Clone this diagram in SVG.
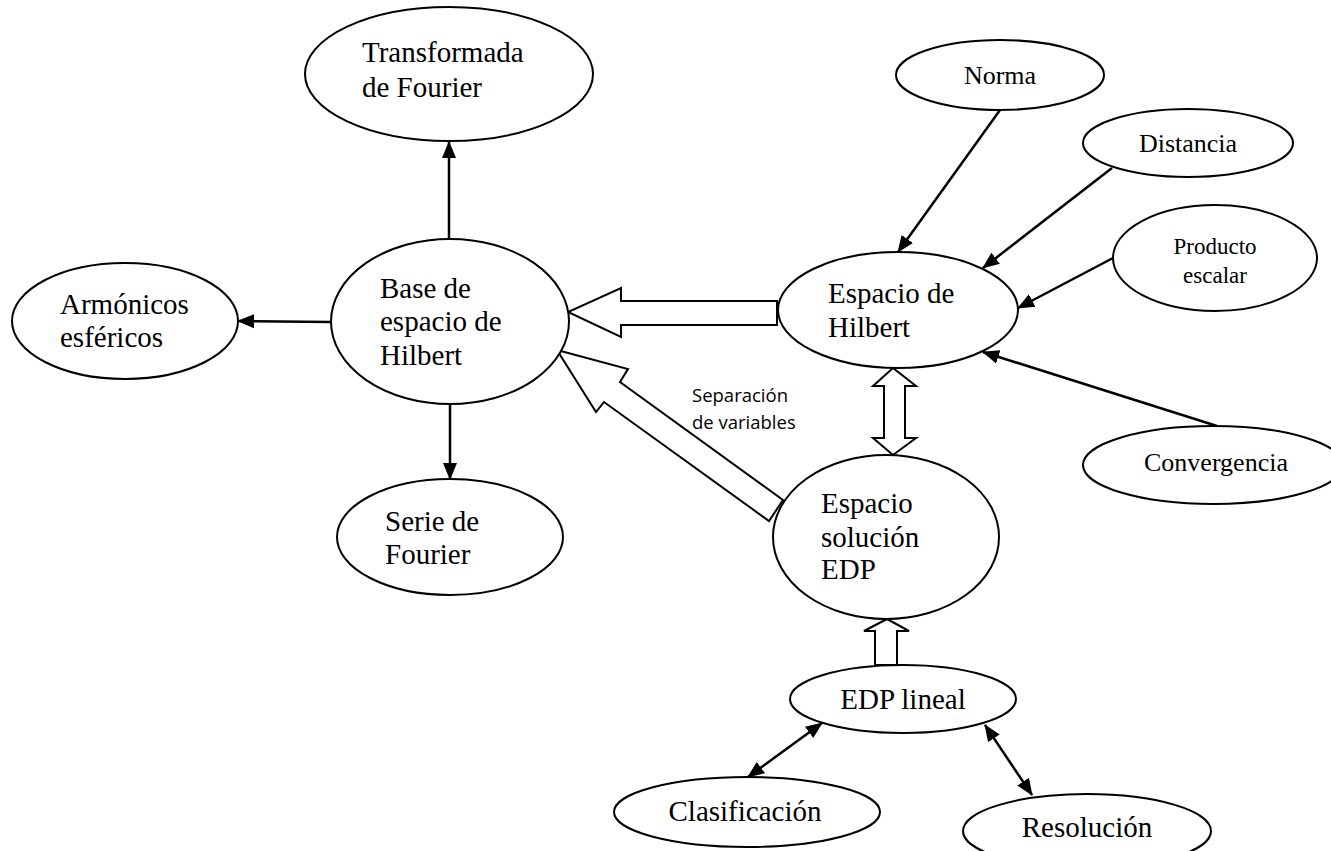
<svg xmlns="http://www.w3.org/2000/svg" width="1331" height="851" viewBox="0 0 1331 851">
<defs>
<marker id="ah" markerUnits="userSpaceOnUse" markerWidth="18" markerHeight="16" refX="16" refY="7" orient="auto-start-reverse" viewBox="0 0 18 14">
<path d="M0,0 L17,7 L0,14 Z" fill="#000"/>
</marker>
<style>
.n ellipse{fill:#fff;stroke:#000;stroke-width:2}
.t{font-family:"Liberation Serif","Times New Roman",serif;font-size:29px;fill:#000}
.s{font-family:"Liberation Serif","Times New Roman",serif;font-size:26px;fill:#000}
.p{font-family:"Liberation Serif","Times New Roman",serif;font-size:23px;fill:#000}
.c line{stroke:#000;stroke-width:2.5}
.c .a{marker-end:url(#ah)}
.c .b{marker-start:url(#ah);marker-end:url(#ah)}
.blk{fill:#fff;stroke:#000;stroke-width:2;stroke-linejoin:miter}
.lbl{font-family:"Open Sans","Liberation Sans",sans-serif;font-size:18.5px;fill:#000}
</style>
</defs>
<rect width="1331" height="851" fill="#fff"/>
<g id="connectors" class="c">
<line class="a" x1="449" y1="240" x2="449" y2="142"/>
<line class="a" x1="331" y1="322" x2="238" y2="321"/>
<line class="a" x1="450" y1="404" x2="450" y2="479"/>
<line class="a" x1="1000" y1="110" x2="898" y2="252"/>
<line class="a" x1="1112" y1="168" x2="983" y2="268"/>
<line class="a" x1="1113" y1="258" x2="1018" y2="308"/>
<line class="a" x1="1217" y1="426" x2="983" y2="352"/>
<line class="b" x1="748" y1="777" x2="822" y2="723"/>
<line class="b" x1="985" y1="725" x2="1032" y2="795"/>
<polygon class="blk" points="777,301 621,301 621,288 568,312 621,337 621,325 777,325"/>
<polygon class="blk" points="557,350 628,369 620,382 783,500 769,521 604,402 596,412"/>
<polygon class="blk" points="893,368 916,386 905,386 905,438 916,438 893,455 873,438 884,438 884,386 873,386"/>
<polygon class="blk" points="887,619 909,631 897,631 897,665 875,665 875,631 864,631"/>
<text class="lbl" x="692" y="402">Separación</text>
<text class="lbl" x="692" y="429">de variables</text>
</g>
<g id="transformada" class="n">
<ellipse cx="449" cy="74" rx="144" ry="67"/>
<text class="t" x="362" y="62">Transformada</text>
<text class="t" x="362" y="97">de Fourier</text>
</g>
<g id="base" class="n">
<ellipse cx="450" cy="321.5" rx="119" ry="82.5"/>
<text class="t" x="380" y="298">Base de</text>
<text class="t" x="380" y="331">espacio de</text>
<text class="t" x="380" y="365">Hilbert</text>
</g>
<g id="armonicos" class="n">
<ellipse cx="125" cy="321" rx="113" ry="58"/>
<text class="t" x="60" y="314">Armónicos</text>
<text class="t" x="60" y="347">esféricos</text>
</g>
<g id="serie" class="n">
<ellipse cx="450" cy="537" rx="113" ry="58"/>
<text class="t" x="385" y="531">Serie de</text>
<text class="t" x="385" y="564">Fourier</text>
</g>
<g id="hilbert" class="n">
<ellipse cx="898" cy="310" rx="120" ry="58"/>
<text class="t" x="828" y="303">Espacio de</text>
<text class="t" x="828" y="337">Hilbert</text>
</g>
<g id="solucion" class="n">
<ellipse cx="886" cy="537" rx="113" ry="82"/>
<text class="t" x="821" y="513">Espacio</text>
<text class="t" x="821" y="547">solución</text>
<text class="t" x="821" y="579">EDP</text>
</g>
<g id="norma" class="n">
<ellipse cx="1000" cy="75" rx="104" ry="35"/>
<text class="s" x="1000" y="84" text-anchor="middle">Norma</text>
</g>
<g id="distancia" class="n">
<ellipse cx="1188" cy="143" rx="105" ry="34"/>
<text class="s" x="1188" y="152" text-anchor="middle">Distancia</text>
</g>
<g id="producto" class="n">
<ellipse cx="1215" cy="258" rx="102" ry="53"/>
<text class="p" x="1215" y="254" text-anchor="middle">Producto</text>
<text class="p" x="1215" y="283" text-anchor="middle">escalar</text>
</g>
<g id="convergencia" class="n">
<ellipse cx="1213" cy="465" rx="130" ry="39"/>
<text class="s" x="1216" y="471" text-anchor="middle">Convergencia</text>
</g>
<g id="edplineal" class="n">
<ellipse cx="903" cy="699" rx="113" ry="34"/>
<text class="t" x="903" y="709" text-anchor="middle">EDP lineal</text>
</g>
<g id="clasificacion" class="n">
<ellipse cx="747" cy="812" rx="133" ry="35"/>
<text class="t" x="745" y="821" text-anchor="middle">Clasificación</text>
</g>
<g id="resolucion" class="n">
<ellipse cx="1087" cy="831" rx="124" ry="37"/>
<text class="t" x="1087" y="837" text-anchor="middle">Resolución</text>
</g>
</svg>
